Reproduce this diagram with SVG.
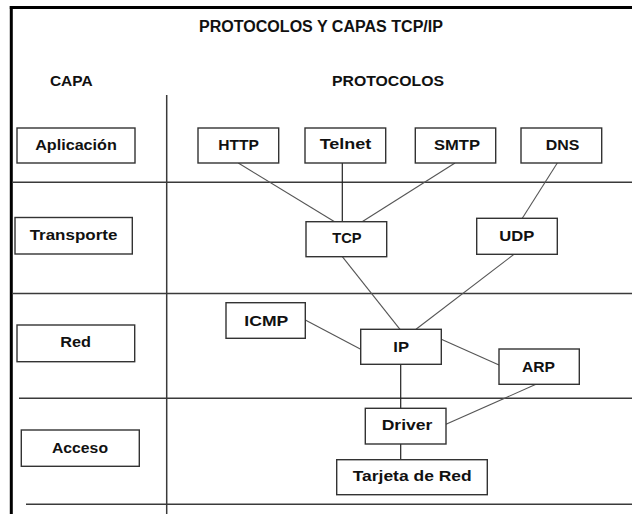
<svg xmlns="http://www.w3.org/2000/svg" width="632" height="514" viewBox="0 0 632 514">
  <style>
    text { font-family: "Liberation Sans", Arial, sans-serif; font-weight: bold; fill: #111; }
    .title { font-size: 16px; }
    .head { font-size: 15.5px; }
    .lbl { font-size: 15px; text-anchor: middle; }
    .box { fill: #fff; stroke: #333; stroke-width: 1.4; }
    .grid { stroke: #3a3a3a; stroke-width: 1.5; fill: none; }
    .frame { stroke: #000; stroke-width: 3; fill: none; }
    .link { stroke: #555; stroke-width: 1.1; fill: none; }
    .vlink { stroke: #222; stroke-width: 1.2; fill: none; }
  </style>

  <rect width="632" height="514" fill="#fff"/>

  <!-- outer frame: top and left edges -->
  <g id="frame">
    <line class="frame" x1="9.8" y1="7.5" x2="632" y2="7.5"/>
    <line class="frame" x1="11.3" y1="6" x2="11.3" y2="514"/>
  </g>

  <!-- layer grid -->
  <g id="grid">
    <line class="grid" x1="166.7" y1="95" x2="166.7" y2="514"/>
    <line class="grid" x1="12" y1="182.3" x2="632" y2="182.3"/>
    <line class="grid" x1="12" y1="293.5" x2="632" y2="293.5"/>
    <line class="grid" x1="19" y1="398.3" x2="632" y2="398.3"/>
    <line class="grid" x1="26" y1="504.3" x2="632" y2="504.3"/>
  </g>

  <!-- headings -->
  <g id="headings">
    <text class="title" x="321" y="32" text-anchor="middle" textLength="244" lengthAdjust="spacingAndGlyphs">PROTOCOLOS Y CAPAS TCP/IP</text>
    <text class="head" x="71.3" y="86" text-anchor="middle" textLength="42.7" lengthAdjust="spacingAndGlyphs">CAPA</text>
    <text class="head" x="388" y="86" text-anchor="middle" textLength="112" lengthAdjust="spacingAndGlyphs">PROTOCOLOS</text>
  </g>

  <!-- connectors -->
  <g id="connectors">
    <line class="link" x1="238.3" y1="163" x2="335" y2="222"/>
    <line class="vlink" x1="342.3" y1="163" x2="342.3" y2="222"/>
    <line class="link" x1="455" y1="163" x2="361.7" y2="222"/>
    <line class="link" x1="557.3" y1="163" x2="522.3" y2="218.3"/>
    <line class="link" x1="342.3" y1="256.7" x2="400" y2="329.3"/>
    <line class="link" x1="514" y1="254.3" x2="416" y2="329.3"/>
    <line class="link" x1="305.3" y1="320" x2="360.7" y2="349.3"/>
    <line class="link" x1="441.3" y1="339.3" x2="499" y2="365"/>
    <line class="vlink" x1="400.7" y1="364.3" x2="400.7" y2="408.3"/>
    <line class="link" x1="536" y1="384.3" x2="446" y2="424.3"/>
    <line class="vlink" x1="400.7" y1="444" x2="400.7" y2="459.7"/>
  </g>

  <!-- layer nodes -->
  <g id="aplicacion">
    <rect class="box" x="17" y="128" width="118" height="35"/>
    <text class="lbl" x="76" y="149.5" textLength="81.7" lengthAdjust="spacingAndGlyphs">Aplicación</text>
  </g>
  <g id="transporte">
    <rect class="box" x="15" y="217.5" width="117.3" height="36.5"/>
    <text class="lbl" x="73.5" y="240" textLength="87.7" lengthAdjust="spacingAndGlyphs">Transporte</text>
  </g>
  <g id="red">
    <rect class="box" x="17" y="325" width="117.7" height="36.7"/>
    <text class="lbl" x="75.7" y="347.3" textLength="30.7" lengthAdjust="spacingAndGlyphs">Red</text>
  </g>
  <g id="acceso">
    <rect class="box" x="21.3" y="430" width="118" height="36.3"/>
    <text class="lbl" x="80" y="453.3" textLength="56" lengthAdjust="spacingAndGlyphs">Acceso</text>
  </g>

  <!-- protocol nodes -->
  <g id="http">
    <rect class="box" x="198" y="128" width="80.7" height="35"/>
    <text class="lbl" x="238.5" y="150" textLength="40.7" lengthAdjust="spacingAndGlyphs">HTTP</text>
  </g>
  <g id="telnet">
    <rect class="box" x="305" y="128" width="80.7" height="35"/>
    <text class="lbl" x="345.5" y="149.3" textLength="51.7" lengthAdjust="spacingAndGlyphs">Telnet</text>
  </g>
  <g id="smtp">
    <rect class="box" x="415.3" y="128" width="80.4" height="35"/>
    <text class="lbl" x="457" y="149.8" textLength="46" lengthAdjust="spacingAndGlyphs">SMTP</text>
  </g>
  <g id="dns">
    <rect class="box" x="521" y="128" width="80.7" height="35"/>
    <text class="lbl" x="562.5" y="149.8" textLength="33.6" lengthAdjust="spacingAndGlyphs">DNS</text>
  </g>
  <g id="tcp">
    <rect class="box" x="306" y="221.7" width="80.7" height="35"/>
    <text class="lbl" x="347" y="242.7" textLength="29.3" lengthAdjust="spacingAndGlyphs">TCP</text>
  </g>
  <g id="udp">
    <rect class="box" x="476.7" y="218.3" width="80.6" height="36"/>
    <text class="lbl" x="516.8" y="240.7" textLength="35" lengthAdjust="spacingAndGlyphs">UDP</text>
  </g>
  <g id="icmp">
    <rect class="box" x="226" y="302.7" width="79.3" height="35.6"/>
    <text class="lbl" x="266.3" y="325.7" textLength="44" lengthAdjust="spacingAndGlyphs">ICMP</text>
  </g>
  <g id="ip">
    <rect class="box" x="360.7" y="329.3" width="80.6" height="35"/>
    <text class="lbl" x="401.2" y="352" textLength="15.7" lengthAdjust="spacingAndGlyphs">IP</text>
  </g>
  <g id="arp">
    <rect class="box" x="499" y="349" width="80.3" height="35.3"/>
    <text class="lbl" x="538.5" y="372" textLength="33" lengthAdjust="spacingAndGlyphs">ARP</text>
  </g>
  <g id="driver">
    <rect class="box" x="365.3" y="408.3" width="80.7" height="35.7"/>
    <text class="lbl" x="407" y="430" textLength="50.7" lengthAdjust="spacingAndGlyphs">Driver</text>
  </g>
  <g id="tarjeta">
    <rect class="box" x="336.7" y="459.7" width="150.6" height="35"/>
    <text class="lbl" x="412.2" y="481" textLength="119" lengthAdjust="spacingAndGlyphs">Tarjeta de Red</text>
  </g>
</svg>
